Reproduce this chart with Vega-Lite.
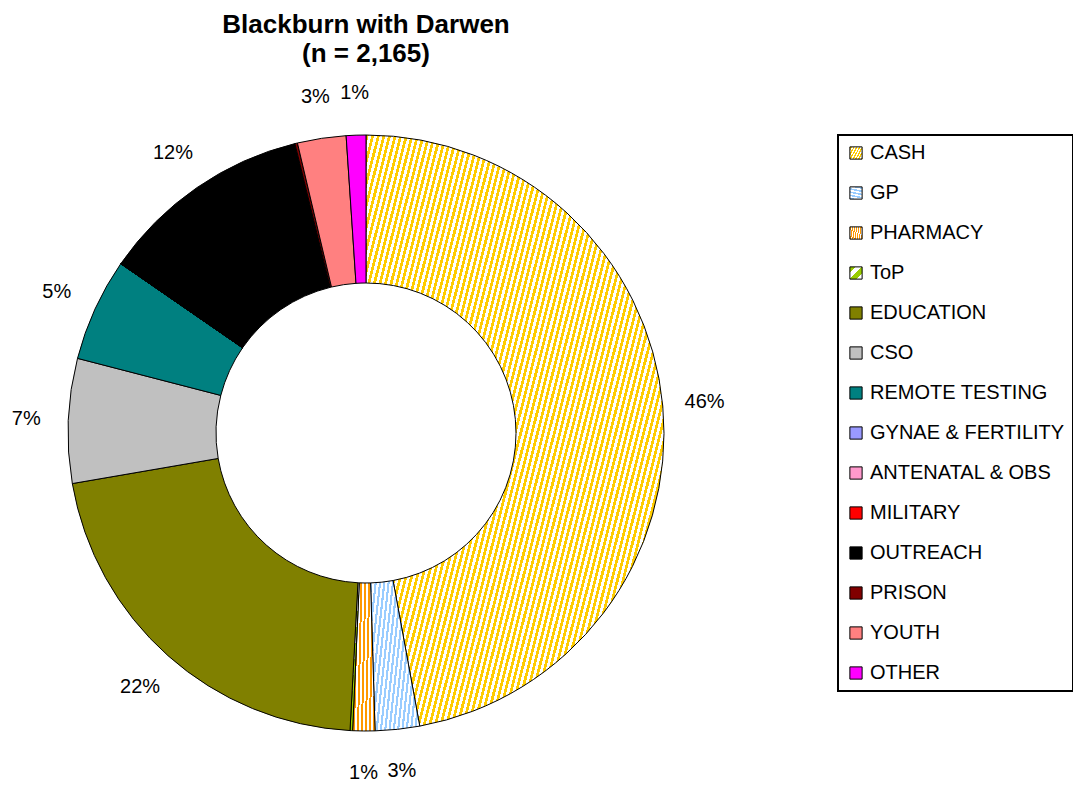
{
 "$schema": "https://vega.github.io/schema/vega-lite/v6.json",
 "width": 732,
 "height": 726,
 "autosize": {"type": "none"},
 "padding": {"left": 0, "top": 70, "right": 341, "bottom": 0},
 "background": "white",
 "title": {"text": ["Blackburn with Darwen", "(n = 2,165)"], "font": "Liberation Sans", "fontSize": 26, "fontWeight": "bold", "color": "black", "lineHeight": 29, "anchor": "middle", "frame": "group", "offset": 3},
 "data": {"values": [
  {"cat": "CASH", "count": 1020, "ord": 1, "label": "46%"},
  {"cat": "GP", "count": 52, "ord": 2, "label": "3%"},
  {"cat": "PHARMACY", "count": 26, "ord": 3, "label": "1%"},
  {"cat": "ToP", "count": 3, "ord": 4, "label": ""},
  {"cat": "EDUCATION", "count": 464, "ord": 5, "label": "22%"},
  {"cat": "CSO", "count": 146, "ord": 6, "label": "7%"},
  {"cat": "REMOTE TESTING", "count": 121, "ord": 7, "label": "5%"},
  {"cat": "GYNAE & FERTILITY", "count": 0, "ord": 8, "label": ""},
  {"cat": "ANTENATAL & OBS", "count": 0, "ord": 9, "label": ""},
  {"cat": "MILITARY", "count": 0, "ord": 10, "label": ""},
  {"cat": "OUTREACH", "count": 250, "ord": 11, "label": "12%"},
  {"cat": "PRISON", "count": 3, "ord": 12, "label": ""},
  {"cat": "YOUTH", "count": 57, "ord": 13, "label": "3%"},
  {"cat": "OTHER", "count": 23, "ord": 14, "label": "1%"}
 ]},
 "encoding": {
  "theta": {"field": "count", "type": "quantitative", "stack": true},
  "order": {"field": "ord", "type": "quantitative"}
 },
 "layer": [
  {
   "mark": {"type": "arc", "outerRadius": 298, "innerRadius": 150, "stroke": "black", "strokeWidth": 1},
   "encoding": {
    "fill": {
     "field": "cat", "type": "nominal",
     "scale": {
      "domain": ["CASH", "GP", "PHARMACY", "ToP", "EDUCATION", "CSO", "REMOTE TESTING", "GYNAE & FERTILITY", "ANTENATAL & OBS", "MILITARY", "OUTREACH", "PRISON", "YOUTH", "OTHER"],
      "range": [
       {"expr": "{gradient:'linear',x1:0,y1:0,x2:1.495,y2:0.754,stops:[{offset:0,color:'#fc0'},{offset:0.005,color:'#fc0'},{offset:0.005,color:'#fff'},{offset:0.01,color:'#fff'},{offset:0.01,color:'#fc0'},{offset:0.015,color:'#fc0'},{offset:0.015,color:'#fff'},{offset:0.02,color:'#fff'},{offset:0.02,color:'#fc0'},{offset:0.025,color:'#fc0'},{offset:0.025,color:'#fff'},{offset:0.03,color:'#fff'},{offset:0.03,color:'#fc0'},{offset:0.035,color:'#fc0'},{offset:0.035,color:'#fff'},{offset:0.04,color:'#fff'},{offset:0.04,color:'#fc0'},{offset:0.045,color:'#fc0'},{offset:0.045,color:'#fff'},{offset:0.05,color:'#fff'},{offset:0.05,color:'#fc0'},{offset:0.055,color:'#fc0'},{offset:0.055,color:'#fff'},{offset:0.06,color:'#fff'},{offset:0.06,color:'#fc0'},{offset:0.065,color:'#fc0'},{offset:0.065,color:'#fff'},{offset:0.07,color:'#fff'},{offset:0.07,color:'#fc0'},{offset:0.075,color:'#fc0'},{offset:0.075,color:'#fff'},{offset:0.08,color:'#fff'},{offset:0.08,color:'#fc0'},{offset:0.085,color:'#fc0'},{offset:0.085,color:'#fff'},{offset:0.09,color:'#fff'},{offset:0.09,color:'#fc0'},{offset:0.095,color:'#fc0'},{offset:0.095,color:'#fff'},{offset:0.1,color:'#fff'},{offset:0.1,color:'#fc0'},{offset:0.105,color:'#fc0'},{offset:0.105,color:'#fff'},{offset:0.11,color:'#fff'},{offset:0.11,color:'#fc0'},{offset:0.115,color:'#fc0'},{offset:0.115,color:'#fff'},{offset:0.12,color:'#fff'},{offset:0.12,color:'#fc0'},{offset:0.125,color:'#fc0'},{offset:0.125,color:'#fff'},{offset:0.13,color:'#fff'},{offset:0.13,color:'#fc0'},{offset:0.135,color:'#fc0'},{offset:0.135,color:'#fff'},{offset:0.14,color:'#fff'},{offset:0.14,color:'#fc0'},{offset:0.145,color:'#fc0'},{offset:0.145,color:'#fff'},{offset:0.15,color:'#fff'},{offset:0.15,color:'#fc0'},{offset:0.155,color:'#fc0'},{offset:0.155,color:'#fff'},{offset:0.16,color:'#fff'},{offset:0.16,color:'#fc0'},{offset:0.165,color:'#fc0'},{offset:0.165,color:'#fff'},{offset:0.17,color:'#fff'},{offset:0.17,color:'#fc0'},{offset:0.175,color:'#fc0'},{offset:0.175,color:'#fff'},{offset:0.18,color:'#fff'},{offset:0.18,color:'#fc0'},{offset:0.185,color:'#fc0'},{offset:0.185,color:'#fff'},{offset:0.19,color:'#fff'},{offset:0.19,color:'#fc0'},{offset:0.195,color:'#fc0'},{offset:0.195,color:'#fff'},{offset:0.2,color:'#fff'},{offset:0.2,color:'#fc0'},{offset:0.205,color:'#fc0'},{offset:0.205,color:'#fff'},{offset:0.21,color:'#fff'},{offset:0.21,color:'#fc0'},{offset:0.215,color:'#fc0'},{offset:0.215,color:'#fff'},{offset:0.22,color:'#fff'},{offset:0.22,color:'#fc0'},{offset:0.225,color:'#fc0'},{offset:0.225,color:'#fff'},{offset:0.23,color:'#fff'},{offset:0.23,color:'#fc0'},{offset:0.235,color:'#fc0'},{offset:0.235,color:'#fff'},{offset:0.24,color:'#fff'},{offset:0.24,color:'#fc0'},{offset:0.245,color:'#fc0'},{offset:0.245,color:'#fff'},{offset:0.25,color:'#fff'},{offset:0.25,color:'#fc0'},{offset:0.255,color:'#fc0'},{offset:0.255,color:'#fff'},{offset:0.26,color:'#fff'},{offset:0.26,color:'#fc0'},{offset:0.265,color:'#fc0'},{offset:0.265,color:'#fff'},{offset:0.27,color:'#fff'},{offset:0.27,color:'#fc0'},{offset:0.275,color:'#fc0'},{offset:0.275,color:'#fff'},{offset:0.28,color:'#fff'},{offset:0.28,color:'#fc0'},{offset:0.285,color:'#fc0'},{offset:0.285,color:'#fff'},{offset:0.29,color:'#fff'},{offset:0.29,color:'#fc0'},{offset:0.295,color:'#fc0'},{offset:0.295,color:'#fff'},{offset:0.3,color:'#fff'},{offset:0.3,color:'#fc0'},{offset:0.305,color:'#fc0'},{offset:0.305,color:'#fff'},{offset:0.31,color:'#fff'},{offset:0.31,color:'#fc0'},{offset:0.315,color:'#fc0'},{offset:0.315,color:'#fff'},{offset:0.32,color:'#fff'},{offset:0.32,color:'#fc0'},{offset:0.325,color:'#fc0'},{offset:0.325,color:'#fff'},{offset:0.33,color:'#fff'},{offset:0.33,color:'#fc0'},{offset:0.335,color:'#fc0'},{offset:0.335,color:'#fff'},{offset:0.34,color:'#fff'},{offset:0.34,color:'#fc0'},{offset:0.345,color:'#fc0'},{offset:0.345,color:'#fff'},{offset:0.35,color:'#fff'},{offset:0.35,color:'#fc0'},{offset:0.355,color:'#fc0'},{offset:0.355,color:'#fff'},{offset:0.36,color:'#fff'},{offset:0.36,color:'#fc0'},{offset:0.365,color:'#fc0'},{offset:0.365,color:'#fff'},{offset:0.37,color:'#fff'},{offset:0.37,color:'#fc0'},{offset:0.375,color:'#fc0'},{offset:0.375,color:'#fff'},{offset:0.38,color:'#fff'},{offset:0.38,color:'#fc0'},{offset:0.385,color:'#fc0'},{offset:0.385,color:'#fff'},{offset:0.39,color:'#fff'},{offset:0.39,color:'#fc0'},{offset:0.395,color:'#fc0'},{offset:0.395,color:'#fff'},{offset:0.4,color:'#fff'},{offset:0.4,color:'#fc0'},{offset:0.405,color:'#fc0'},{offset:0.405,color:'#fff'},{offset:0.41,color:'#fff'},{offset:0.41,color:'#fc0'},{offset:0.415,color:'#fc0'},{offset:0.415,color:'#fff'},{offset:0.42,color:'#fff'},{offset:0.42,color:'#fc0'},{offset:0.425,color:'#fc0'},{offset:0.425,color:'#fff'},{offset:0.43,color:'#fff'},{offset:0.43,color:'#fc0'},{offset:0.435,color:'#fc0'},{offset:0.435,color:'#fff'},{offset:0.44,color:'#fff'},{offset:0.44,color:'#fc0'},{offset:0.445,color:'#fc0'},{offset:0.445,color:'#fff'},{offset:0.45,color:'#fff'},{offset:0.45,color:'#fc0'},{offset:0.455,color:'#fc0'},{offset:0.455,color:'#fff'},{offset:0.46,color:'#fff'},{offset:0.46,color:'#fc0'},{offset:0.465,color:'#fc0'},{offset:0.465,color:'#fff'},{offset:0.47,color:'#fff'},{offset:0.47,color:'#fc0'},{offset:0.475,color:'#fc0'},{offset:0.475,color:'#fff'},{offset:0.48,color:'#fff'},{offset:0.48,color:'#fc0'},{offset:0.485,color:'#fc0'},{offset:0.485,color:'#fff'},{offset:0.49,color:'#fff'},{offset:0.49,color:'#fc0'},{offset:0.495,color:'#fc0'},{offset:0.495,color:'#fff'},{offset:0.5,color:'#fff'},{offset:0.5,color:'#fc0'},{offset:0.505,color:'#fc0'},{offset:0.505,color:'#fff'},{offset:0.51,color:'#fff'},{offset:0.51,color:'#fc0'},{offset:0.515,color:'#fc0'},{offset:0.515,color:'#fff'},{offset:0.52,color:'#fff'},{offset:0.52,color:'#fc0'},{offset:0.525,color:'#fc0'},{offset:0.525,color:'#fff'},{offset:0.53,color:'#fff'},{offset:0.53,color:'#fc0'},{offset:0.535,color:'#fc0'},{offset:0.535,color:'#fff'},{offset:0.54,color:'#fff'},{offset:0.54,color:'#fc0'},{offset:0.545,color:'#fc0'},{offset:0.545,color:'#fff'},{offset:0.55,color:'#fff'},{offset:0.55,color:'#fc0'},{offset:0.555,color:'#fc0'},{offset:0.555,color:'#fff'},{offset:0.56,color:'#fff'},{offset:0.56,color:'#fc0'},{offset:0.565,color:'#fc0'},{offset:0.565,color:'#fff'},{offset:0.57,color:'#fff'},{offset:0.57,color:'#fc0'},{offset:0.575,color:'#fc0'},{offset:0.575,color:'#fff'},{offset:0.58,color:'#fff'},{offset:0.58,color:'#fc0'},{offset:0.585,color:'#fc0'},{offset:0.585,color:'#fff'},{offset:0.59,color:'#fff'},{offset:0.59,color:'#fc0'},{offset:0.595,color:'#fc0'},{offset:0.595,color:'#fff'},{offset:0.6,color:'#fff'},{offset:0.6,color:'#fc0'},{offset:0.605,color:'#fc0'},{offset:0.605,color:'#fff'},{offset:0.61,color:'#fff'},{offset:0.61,color:'#fc0'},{offset:0.615,color:'#fc0'},{offset:0.615,color:'#fff'},{offset:0.62,color:'#fff'},{offset:0.62,color:'#fc0'},{offset:0.625,color:'#fc0'},{offset:0.625,color:'#fff'},{offset:0.63,color:'#fff'},{offset:0.63,color:'#fc0'},{offset:0.635,color:'#fc0'},{offset:0.635,color:'#fff'},{offset:0.64,color:'#fff'},{offset:0.64,color:'#fc0'},{offset:0.645,color:'#fc0'},{offset:0.645,color:'#fff'},{offset:0.65,color:'#fff'},{offset:0.65,color:'#fc0'},{offset:0.655,color:'#fc0'},{offset:0.655,color:'#fff'},{offset:0.66,color:'#fff'},{offset:0.66,color:'#fc0'},{offset:0.665,color:'#fc0'},{offset:0.665,color:'#fff'},{offset:0.67,color:'#fff'},{offset:0.67,color:'#fc0'},{offset:0.675,color:'#fc0'},{offset:0.675,color:'#fff'},{offset:0.68,color:'#fff'},{offset:0.68,color:'#fc0'},{offset:0.685,color:'#fc0'},{offset:0.685,color:'#fff'},{offset:0.69,color:'#fff'},{offset:0.69,color:'#fc0'},{offset:0.695,color:'#fc0'},{offset:0.695,color:'#fff'},{offset:0.7,color:'#fff'},{offset:0.7,color:'#fc0'},{offset:0.705,color:'#fc0'},{offset:0.705,color:'#fff'},{offset:0.71,color:'#fff'},{offset:0.71,color:'#fc0'},{offset:0.715,color:'#fc0'},{offset:0.715,color:'#fff'},{offset:0.72,color:'#fff'},{offset:0.72,color:'#fc0'},{offset:0.725,color:'#fc0'},{offset:0.725,color:'#fff'},{offset:0.73,color:'#fff'},{offset:0.73,color:'#fc0'},{offset:0.735,color:'#fc0'},{offset:0.735,color:'#fff'},{offset:0.74,color:'#fff'},{offset:0.74,color:'#fc0'},{offset:0.745,color:'#fc0'},{offset:0.745,color:'#fff'},{offset:0.75,color:'#fff'},{offset:0.75,color:'#fc0'},{offset:0.755,color:'#fc0'},{offset:0.755,color:'#fff'},{offset:0.76,color:'#fff'},{offset:0.76,color:'#fc0'},{offset:0.765,color:'#fc0'},{offset:0.765,color:'#fff'},{offset:0.77,color:'#fff'},{offset:0.77,color:'#fc0'},{offset:0.775,color:'#fc0'},{offset:0.775,color:'#fff'},{offset:0.78,color:'#fff'},{offset:0.78,color:'#fc0'},{offset:0.785,color:'#fc0'},{offset:0.785,color:'#fff'},{offset:0.79,color:'#fff'},{offset:0.79,color:'#fc0'},{offset:0.795,color:'#fc0'},{offset:0.795,color:'#fff'},{offset:0.8,color:'#fff'},{offset:0.8,color:'#fc0'},{offset:0.805,color:'#fc0'},{offset:0.805,color:'#fff'},{offset:0.81,color:'#fff'},{offset:0.81,color:'#fc0'},{offset:0.815,color:'#fc0'},{offset:0.815,color:'#fff'},{offset:0.82,color:'#fff'},{offset:0.82,color:'#fc0'},{offset:0.825,color:'#fc0'},{offset:0.825,color:'#fff'},{offset:0.83,color:'#fff'},{offset:0.83,color:'#fc0'},{offset:0.835,color:'#fc0'},{offset:0.835,color:'#fff'},{offset:0.84,color:'#fff'},{offset:0.84,color:'#fc0'},{offset:0.845,color:'#fc0'},{offset:0.845,color:'#fff'},{offset:0.85,color:'#fff'},{offset:0.85,color:'#fc0'},{offset:0.855,color:'#fc0'},{offset:0.855,color:'#fff'},{offset:0.86,color:'#fff'},{offset:0.86,color:'#fc0'},{offset:0.865,color:'#fc0'},{offset:0.865,color:'#fff'},{offset:0.87,color:'#fff'},{offset:0.87,color:'#fc0'},{offset:0.875,color:'#fc0'},{offset:0.875,color:'#fff'},{offset:0.88,color:'#fff'},{offset:0.88,color:'#fc0'},{offset:0.885,color:'#fc0'},{offset:0.885,color:'#fff'},{offset:0.89,color:'#fff'},{offset:0.89,color:'#fc0'},{offset:0.895,color:'#fc0'},{offset:0.895,color:'#fff'},{offset:0.9,color:'#fff'},{offset:0.9,color:'#fc0'},{offset:0.905,color:'#fc0'},{offset:0.905,color:'#fff'},{offset:0.91,color:'#fff'},{offset:0.91,color:'#fc0'},{offset:0.915,color:'#fc0'},{offset:0.915,color:'#fff'},{offset:0.92,color:'#fff'},{offset:0.92,color:'#fc0'},{offset:0.925,color:'#fc0'},{offset:0.925,color:'#fff'},{offset:0.93,color:'#fff'},{offset:0.93,color:'#fc0'},{offset:0.935,color:'#fc0'},{offset:0.935,color:'#fff'},{offset:0.94,color:'#fff'},{offset:0.94,color:'#fc0'},{offset:0.945,color:'#fc0'},{offset:0.945,color:'#fff'},{offset:0.95,color:'#fff'},{offset:0.95,color:'#fc0'},{offset:0.955,color:'#fc0'},{offset:0.955,color:'#fff'},{offset:0.96,color:'#fff'},{offset:0.96,color:'#fc0'},{offset:0.965,color:'#fc0'},{offset:0.965,color:'#fff'},{offset:0.97,color:'#fff'},{offset:0.97,color:'#fc0'},{offset:0.975,color:'#fc0'},{offset:0.975,color:'#fff'},{offset:0.98,color:'#fff'},{offset:0.98,color:'#fc0'},{offset:0.985,color:'#fc0'},{offset:0.985,color:'#fff'},{offset:0.99,color:'#fff'},{offset:0.99,color:'#fc0'},{offset:0.995,color:'#fc0'},{offset:0.995,color:'#fff'},{offset:1,color:'#fff'}]}"},
       {"expr": "{gradient:'linear',x1:0,y1:0,x2:1.96,y2:0.662,stops:[{offset:0,color:'#9cf'},{offset:0.02,color:'#9cf'},{offset:0.02,color:'#fff'},{offset:0.04,color:'#fff'},{offset:0.04,color:'#9cf'},{offset:0.06,color:'#9cf'},{offset:0.06,color:'#fff'},{offset:0.08,color:'#fff'},{offset:0.08,color:'#9cf'},{offset:0.1,color:'#9cf'},{offset:0.1,color:'#fff'},{offset:0.12,color:'#fff'},{offset:0.12,color:'#9cf'},{offset:0.14,color:'#9cf'},{offset:0.14,color:'#fff'},{offset:0.16,color:'#fff'},{offset:0.16,color:'#9cf'},{offset:0.18,color:'#9cf'},{offset:0.18,color:'#fff'},{offset:0.2,color:'#fff'},{offset:0.2,color:'#9cf'},{offset:0.22,color:'#9cf'},{offset:0.22,color:'#fff'},{offset:0.24,color:'#fff'},{offset:0.24,color:'#9cf'},{offset:0.26,color:'#9cf'},{offset:0.26,color:'#fff'},{offset:0.28,color:'#fff'},{offset:0.28,color:'#9cf'},{offset:0.3,color:'#9cf'},{offset:0.3,color:'#fff'},{offset:0.32,color:'#fff'},{offset:0.32,color:'#9cf'},{offset:0.34,color:'#9cf'},{offset:0.34,color:'#fff'},{offset:0.36,color:'#fff'},{offset:0.36,color:'#9cf'},{offset:0.38,color:'#9cf'},{offset:0.38,color:'#fff'},{offset:0.4,color:'#fff'},{offset:0.4,color:'#9cf'},{offset:0.42,color:'#9cf'},{offset:0.42,color:'#fff'},{offset:0.44,color:'#fff'},{offset:0.44,color:'#9cf'},{offset:0.46,color:'#9cf'},{offset:0.46,color:'#fff'},{offset:0.48,color:'#fff'},{offset:0.48,color:'#9cf'},{offset:0.5,color:'#9cf'},{offset:0.5,color:'#fff'},{offset:0.52,color:'#fff'},{offset:0.52,color:'#9cf'},{offset:0.54,color:'#9cf'},{offset:0.54,color:'#fff'},{offset:0.56,color:'#fff'},{offset:0.56,color:'#9cf'},{offset:0.58,color:'#9cf'},{offset:0.58,color:'#fff'},{offset:0.6,color:'#fff'},{offset:0.6,color:'#9cf'},{offset:0.62,color:'#9cf'},{offset:0.62,color:'#fff'},{offset:0.64,color:'#fff'},{offset:0.64,color:'#9cf'},{offset:0.66,color:'#9cf'},{offset:0.66,color:'#fff'},{offset:0.68,color:'#fff'},{offset:0.68,color:'#9cf'},{offset:0.7,color:'#9cf'},{offset:0.7,color:'#fff'},{offset:0.72,color:'#fff'},{offset:0.72,color:'#9cf'},{offset:0.74,color:'#9cf'},{offset:0.74,color:'#fff'},{offset:0.76,color:'#fff'},{offset:0.76,color:'#9cf'},{offset:0.78,color:'#9cf'},{offset:0.78,color:'#fff'},{offset:0.8,color:'#fff'},{offset:0.8,color:'#9cf'},{offset:0.82,color:'#9cf'},{offset:0.82,color:'#fff'},{offset:0.84,color:'#fff'},{offset:0.84,color:'#9cf'},{offset:0.86,color:'#9cf'},{offset:0.86,color:'#fff'},{offset:0.88,color:'#fff'},{offset:0.88,color:'#9cf'},{offset:0.9,color:'#9cf'},{offset:0.9,color:'#fff'},{offset:0.92,color:'#fff'},{offset:0.92,color:'#9cf'},{offset:0.94,color:'#9cf'},{offset:0.94,color:'#fff'},{offset:0.96,color:'#fff'},{offset:0.96,color:'#9cf'},{offset:0.98,color:'#9cf'},{offset:0.98,color:'#fff'},{offset:1,color:'#fff'}]}"},
       {"expr": "{gradient:'linear',x1:0,y1:0,x2:4.27,y2:0.676,stops:[{offset:0,color:'#f90'},{offset:0.02,color:'#f90'},{offset:0.02,color:'#fff'},{offset:0.04,color:'#fff'},{offset:0.04,color:'#f90'},{offset:0.06,color:'#f90'},{offset:0.06,color:'#fff'},{offset:0.08,color:'#fff'},{offset:0.08,color:'#f90'},{offset:0.1,color:'#f90'},{offset:0.1,color:'#fff'},{offset:0.12,color:'#fff'},{offset:0.12,color:'#f90'},{offset:0.14,color:'#f90'},{offset:0.14,color:'#fff'},{offset:0.16,color:'#fff'},{offset:0.16,color:'#f90'},{offset:0.18,color:'#f90'},{offset:0.18,color:'#fff'},{offset:0.2,color:'#fff'},{offset:0.2,color:'#f90'},{offset:0.22,color:'#f90'},{offset:0.22,color:'#fff'},{offset:0.24,color:'#fff'},{offset:0.24,color:'#f90'},{offset:0.26,color:'#f90'},{offset:0.26,color:'#fff'},{offset:0.28,color:'#fff'},{offset:0.28,color:'#f90'},{offset:0.3,color:'#f90'},{offset:0.3,color:'#fff'},{offset:0.32,color:'#fff'},{offset:0.32,color:'#f90'},{offset:0.34,color:'#f90'},{offset:0.34,color:'#fff'},{offset:0.36,color:'#fff'},{offset:0.36,color:'#f90'},{offset:0.38,color:'#f90'},{offset:0.38,color:'#fff'},{offset:0.4,color:'#fff'},{offset:0.4,color:'#f90'},{offset:0.42,color:'#f90'},{offset:0.42,color:'#fff'},{offset:0.44,color:'#fff'},{offset:0.44,color:'#f90'},{offset:0.46,color:'#f90'},{offset:0.46,color:'#fff'},{offset:0.48,color:'#fff'},{offset:0.48,color:'#f90'},{offset:0.5,color:'#f90'},{offset:0.5,color:'#fff'},{offset:0.52,color:'#fff'},{offset:0.52,color:'#f90'},{offset:0.54,color:'#f90'},{offset:0.54,color:'#fff'},{offset:0.56,color:'#fff'},{offset:0.56,color:'#f90'},{offset:0.58,color:'#f90'},{offset:0.58,color:'#fff'},{offset:0.6,color:'#fff'},{offset:0.6,color:'#f90'},{offset:0.62,color:'#f90'},{offset:0.62,color:'#fff'},{offset:0.64,color:'#fff'},{offset:0.64,color:'#f90'},{offset:0.66,color:'#f90'},{offset:0.66,color:'#fff'},{offset:0.68,color:'#fff'},{offset:0.68,color:'#f90'},{offset:0.7,color:'#f90'},{offset:0.7,color:'#fff'},{offset:0.72,color:'#fff'},{offset:0.72,color:'#f90'},{offset:0.74,color:'#f90'},{offset:0.74,color:'#fff'},{offset:0.76,color:'#fff'},{offset:0.76,color:'#f90'},{offset:0.78,color:'#f90'},{offset:0.78,color:'#fff'},{offset:0.8,color:'#fff'},{offset:0.8,color:'#f90'},{offset:0.82,color:'#f90'},{offset:0.82,color:'#fff'},{offset:0.84,color:'#fff'},{offset:0.84,color:'#f90'},{offset:0.86,color:'#f90'},{offset:0.86,color:'#fff'},{offset:0.88,color:'#fff'},{offset:0.88,color:'#f90'},{offset:0.9,color:'#f90'},{offset:0.9,color:'#fff'},{offset:0.92,color:'#fff'},{offset:0.92,color:'#f90'},{offset:0.94,color:'#f90'},{offset:0.94,color:'#fff'},{offset:0.96,color:'#fff'},{offset:0.96,color:'#f90'},{offset:0.98,color:'#f90'},{offset:0.98,color:'#fff'},{offset:1,color:'#fff'}]}"},
       {"expr": "{gradient:'linear',x1:0,y1:0,x2:1,y2:1,stops:[{offset:0,color:'#9c0'},{offset:0.25,color:'#9c0'},{offset:0.25,color:'#fff'},{offset:0.5,color:'#fff'},{offset:0.5,color:'#9c0'},{offset:0.75,color:'#9c0'},{offset:0.75,color:'#fff'},{offset:1,color:'#fff'}]}"},
       "#808000", "#C0C0C0", "#008080", "#9999FF", "#FF99CC", "#FF0000", "#000000", "#800000", "#FF8080", "#FF00FF"
      ]
     },
     "legend": {
      "title": null,
      "orient": "none",
      "legendX": 838,
      "legendY": 65,
      "direction": "vertical",
      "fillColor": "white",
      "strokeColor": "black",
      "padding": 8,
      "symbolType": "square",
      "symbolSize": 150,
      "symbolStrokeColor": "black",
      "symbolStrokeWidth": 1,
      "labelFont": "Liberation Sans",
      "labelFontSize": 20,
      "labelColor": "black",
      "labelOffset": 4,
      "labelLimit": 500,
      "rowPadding": 20,
      "encode": {"legend": {"update": {"strokeWidth": {"value": 2}}}}
     }
    }
   }
  },
  {
   "mark": {"type": "text", "radius": 340, "font": "Liberation Sans", "fontSize": 20, "fill": "black", "align": "center", "baseline": "middle"},
   "encoding": {"text": {"field": "label", "type": "nominal"}}
  }
 ],
 "config": {"view": {"stroke": null}}
}
